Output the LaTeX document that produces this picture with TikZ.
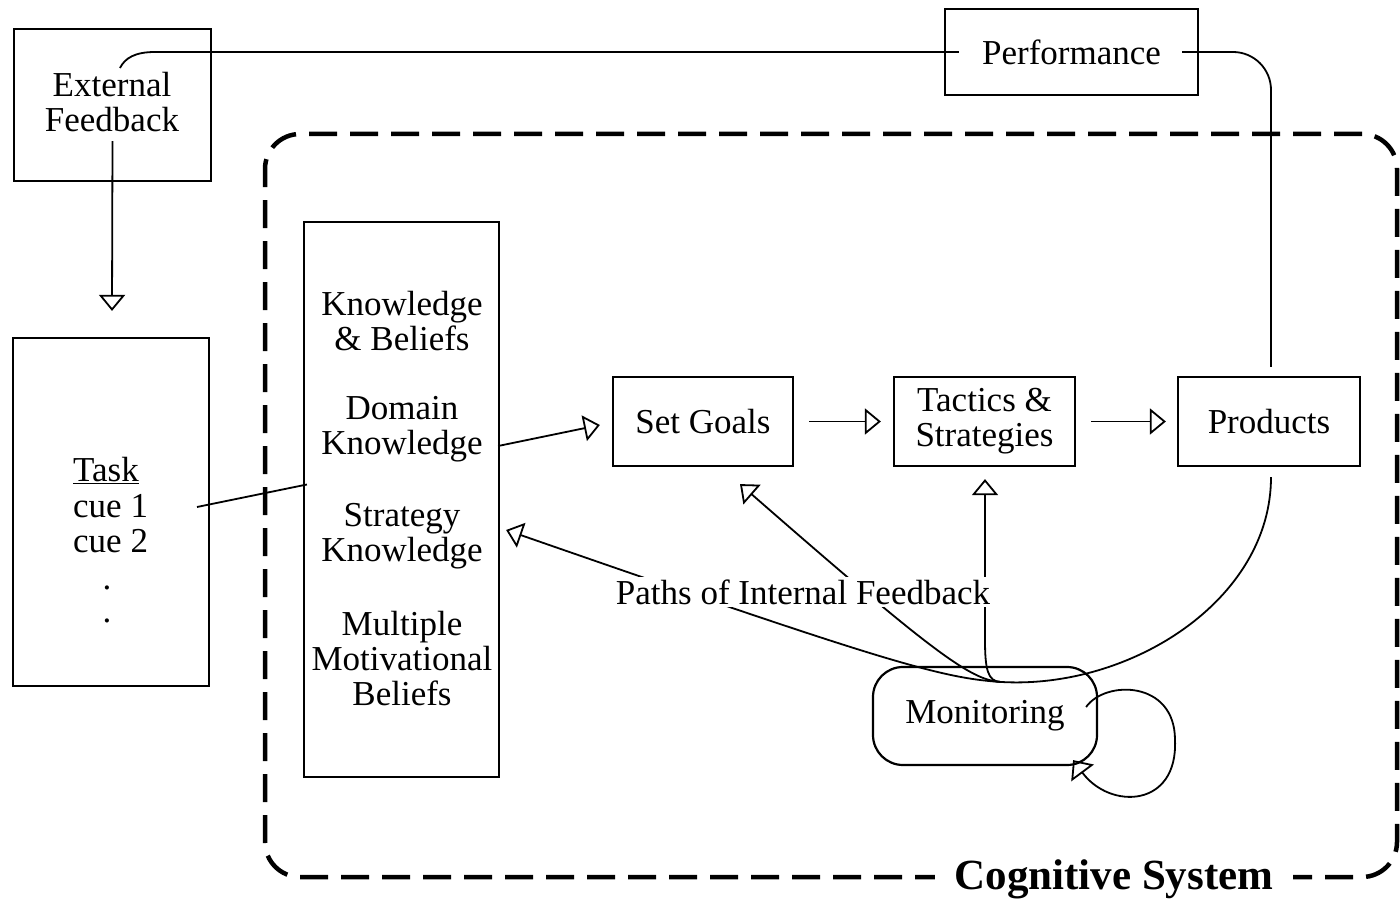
\documentclass[tikz,border=0pt]{standalone}
\usepackage{fontspec}
\setmainfont{Liberation Serif}
\usetikzlibrary{arrows.meta,calc}
\begin{document}
\begin{tikzpicture}[x=1pt,y=-1pt,
  box/.style={draw, line width=2.2pt, rectangle, inner sep=0pt},
  txt/.style={font=\fontsize{35}{35}\selectfont, align=center, inner sep=0pt},
  conn/.style={line width=1.8pt},
  arr/.style={conn, -{Triangle[open,length=16pt,width=26pt]}},
  dashbox/.style={draw, line width=4.5pt, dash pattern=on 28pt off 13pt, rounded corners=35pt, inner sep=0pt},
]
\useasboundingbox (0,0) rectangle (1400,901);

% container
\node[dashbox, minimum width=1132pt, minimum height=743pt] (cog) at (831,505.5) {};

% boxes
\node[box, minimum width=197pt, minimum height=152pt] (ext) at (112.5,105) {};
\node[txt] (extt) at (112,102) {External\\Feedback};
\node[box, txt, minimum width=253pt, minimum height=86pt] (perf) at (1071.5,52) {Performance};
\node[box, minimum width=196pt, minimum height=348pt] (task) at (111,512) {};
\node[txt, anchor=base west] (t1) at (73,481) {\underline{Task}};
\node[txt, anchor=base west] (t2) at (73,517) {cue 1};
\node[txt, anchor=base west] (t3) at (73,552) {cue 2};
\node[txt, anchor=base] (t4) at (107,589) {.};
\node[txt, anchor=base] (t5) at (107,622) {.};

\node[box, minimum width=195pt, minimum height=555pt] (know) at (401.5,499.5) {};
\node[txt] (k1) at (402,321) {Knowledge\\\& Beliefs};
\node[txt] (k2) at (402,429) {Domain\\Knowledge};
\node[txt] (k3) at (402,536) {Strategy\\Knowledge};
\node[txt] (k4) at (402,659) {Multiple\\Motivational\\Beliefs};

\node[box, txt, minimum width=180pt, minimum height=89pt] (goals) at (703,421.5) {Set Goals};
\node[box, txt, minimum width=181pt, minimum height=89pt] (tact) at (984.5,421.5) {Tactics \&\\Strategies};
\node[box, txt, minimum width=182pt, minimum height=89pt] (prod) at (1269,421.5) {Products};
\node[box, txt, rounded corners=30pt, minimum width=224pt, minimum height=98pt] (mon) at (985,716) {Monitoring};

\coordinate (conv) at ($(mon.north)+(15,16)$);
\coordinate (efin) at (120,68);
\coordinate (pc) at (1271,52);
\coordinate (tv) at (985,640);

% external feedback path
\draw[conn] ($(perf.west)+(15,0)$) -- (155,52) .. controls (135,52) and (125,58) .. (efin);
\draw[conn, rounded corners=38pt] ($(prod.north)+(2,-9)$) -- (pc) -- ($(perf.east)+(-17,0)$);
\draw[arr] ($(ext.south)+(0,-41)$) -- ($(task.north)+(1,-26)$);

% task to knowledge
\draw[conn] ($(task.center)+(86,-5)$) -- ($(know.west)+(4,-15)$);

% main flow
\draw[arr] ($(know.east)+(-2,-53.5)$) -- ($(goals.west)+(-12,3.5)$);
\draw[arr] ($(goals.east)+(15,0)$) -- ($(tact.west)+(-12,0)$);
\draw[arr] ($(tact.east)+(15,0)$) -- ($(prod.west)+(-11,0)$);

% products to monitoring
\draw[conn] ($(prod.south)+(2,10)$) .. controls (1271,600) and (1130,690) .. (conv);

% internal feedback
\draw[arr] (conv) .. controls (940,678) and (880,660) .. ($(know.east)+(6,30.5)$);
\draw[arr] (conv) .. controls (970,680) and (930,650) .. ($(goals.south)+(37,17)$);
\draw[arr] (conv) .. controls (988,681) and (985,670) .. (tv) -- ($(tact.south)+(0.5,12)$);

% self loop
\coordinate (ls) at ($(mon.east)+(-12,-9)$);
\coordinate (le) at ($(mon.south east)+(-25,-6)$);
\draw[conn, -{Triangle[open,length=16pt,width=28pt]}] (ls) .. controls (1105,680) and (1175,680) .. (1175,740) .. controls (1178,808) and (1110,810) .. (le);

% labels
\node[txt, fill=white, inner xsep=3pt, inner ysep=3pt] (pif) at (803,592) {Paths of Internal Feedback};
\node[font=\fontsize{43}{43}\selectfont\bfseries, fill=white, inner xsep=20pt, inner ysep=4pt] (cogl) at (1114,879) {Cognitive System};
\end{tikzpicture}
\end{document}
